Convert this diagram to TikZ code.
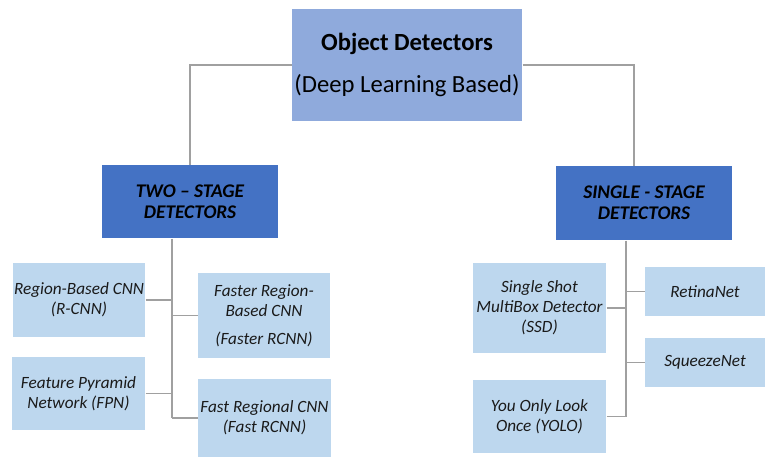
\documentclass[tikz,border=0pt]{standalone}
\usepackage{fontspec}
\setmainfont{Carlito}

\tikzset{every picture/.style={line width=0.75pt}}
\definecolor{rootblue}{HTML}{8FAADC}
\definecolor{stageblue}{HTML}{4472C4}
\definecolor{leafblue}{HTML}{BDD7EE}
\definecolor{linkgrey}{HTML}{A0A0A0}
\definecolor{inkgrey}{HTML}{1A1A1A}
\tikzset{
  rootbox/.style={fill=rootblue, minimum width=172.5pt, minimum height=84pt, inner sep=0pt, align=center, text=black, font=\fontsize{18.5}{21}\selectfont},
  stagebox/.style={fill=stageblue, minimum width=132pt, inner sep=0pt, align=center, text=black, font=\fontsize{14.5}{15.75}\selectfont\bfseries\itshape},
  leafbox/.style={fill=leafblue, inner sep=0pt, align=center, text=inkgrey, font=\fontsize{12.9}{15}\selectfont\itshape},
  link/.style={draw=linkgrey, line width=0.9pt},
}

\begin{document}
\begin{tikzpicture}[x=0.75pt,y=0.75pt,yscale=-1,xscale=1]
  \useasboundingbox (0,0) rectangle (765,457);

  %Root
  \node [rootbox] (top) at (407,65) {\bfseries Object Detectors\\[11pt](Deep Learning Based)};

  %Stages
  \node [stagebox, minimum height=54.75pt] (two) at (190,201.5) {TWO -- STAGE\\DETECTORS};
  \node [stagebox, minimum height=55.5pt] (single) at (644,203) {SINGLE - STAGE\\DETECTORS};

  %Two-stage detectors
  \node [leafbox, minimum width=99pt, minimum height=55.5pt] (rcnn) at (79,300) {Region-Based CNN\\(R-CNN)};
  \node [leafbox, minimum width=99pt, minimum height=63.75pt] (faster) at (264,315.5) {Faster Region-\\Based CNN\\[6pt](Faster RCNN)};
  \node [leafbox, minimum width=99.75pt, minimum height=54.75pt] (fpn) at (78.5,393.5) {Feature Pyramid\\Network (FPN)};
  \node [leafbox, minimum width=99.75pt, minimum height=58.5pt] (fast) at (264.5,418) {Fast Regional CNN\\(Fast RCNN)};

  %Single-stage detectors
  \node [leafbox, minimum width=99.75pt, minimum height=67.5pt] (ssd) at (539.5,308) {Single Shot\\MultiBox Detector\\(SSD)};
  \node [leafbox, minimum width=90pt, minimum height=36.75pt] (retina) at (705,291.5) {RetinaNet};
  \node [leafbox, minimum width=90pt, minimum height=36.75pt] (squeeze) at (705,362.5) {SqueezeNet};
  \node [leafbox, minimum width=99.75pt, minimum height=54.75pt] (yolo) at (539.5,416.5) {You Only Look\\Once (YOLO)};

  %Links from root
  \coordinate (rtop) at ([xshift=-7.5pt]single.north);
  \draw [link] (top.west) -| (two.north);
  \draw [link] (top.east) -| (rtop);

  %Left trunk
  \coordinate (ltrunk) at ([xshift=-13.5pt]two.south);
  \draw [link] (ltrunk) -- (ltrunk |- fast.west);
  \draw [link] (rcnn.east) -- (rcnn.east -| ltrunk);
  \draw [link] (fpn.east) -- (fpn.east -| ltrunk);
  \draw [link] (ltrunk |- faster.west) -- (faster.west);
  \draw [link] (ltrunk |- fast.west) -- (fast.west);

  %Right trunk
  \coordinate (rtrunk) at ([xshift=-13.5pt]single.south);
  \draw [link] (rtrunk) -- (rtrunk |- yolo.east);
  \draw [link] (ssd.east) -- (ssd.east -| rtrunk);
  \draw [link] (yolo.east) -- (yolo.east -| rtrunk);
  \draw [link] (rtrunk |- retina.west) -- (retina.west);
  \draw [link] (rtrunk |- squeeze.west) -- (squeeze.west);

\end{tikzpicture}
\end{document}
